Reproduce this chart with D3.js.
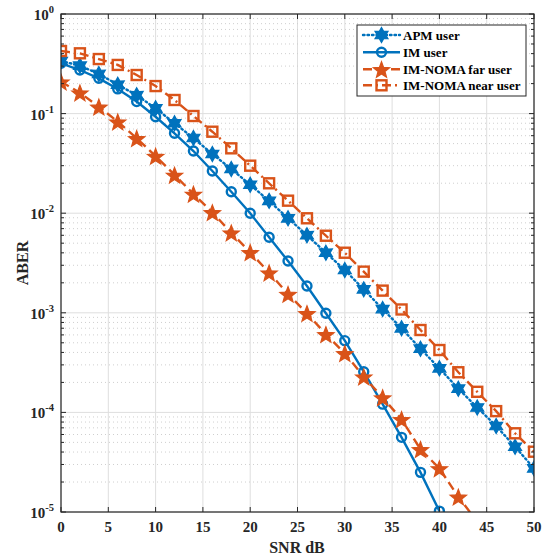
<!DOCTYPE html>
<html><head><meta charset="utf-8">
<script src="https://cdn.jsdelivr.net/npm/d3@7"></script>
<style>body{margin:0;background:#fff}svg{display:block}text{font-family:"Liberation Serif","Times New Roman",serif;font-weight:bold}</style>
</head><body><svg id="c" width="546" height="558"></svg>
<script>
const snr = d3.range(0, 51, 2);
const apm = [0.337,0.303,0.250,0.195,0.153,0.113,0.080,0.0569,0.0393,0.0278,0.0193,0.0133,0.00889,0.00601,0.00401,0.00269,0.00172,0.00109,0.000699,0.000436,0.000277,0.000173,0.000112,7.3e-5,4.52e-5,2.74e-5];
const imUser = [0.320,0.274,0.226,0.177,0.132,0.093,0.0634,0.0421,0.0265,0.0164,0.00998,0.00573,0.00331,0.00186,0.000989,0.000525,0.000256,0.000121,5.62e-5,2.5e-5,1.02e-5];
const farUser = [0.209,0.162,0.117,0.083,0.0565,0.0375,0.0242,0.0156,0.0102,0.00637,0.00405,0.00253,0.00154,0.000988,0.000608,0.000392,0.000228,0.000141,8.53e-5,4.26e-5,2.74e-5,1.42e-5,8.0e-6];
const nearUser = [0.425,0.403,0.353,0.308,0.244,0.189,0.137,0.0946,0.0658,0.0448,0.030,0.01996,0.01336,0.00889,0.00594,0.00401,0.00259,0.00167,0.00108,0.000672,0.000423,0.000253,0.000161,0.000103,6.17e-5,4.03e-5];
const xTicks = [0,5,10,15,20,25,30,35,40,45,50];
const yExps = [0,-1,-2,-3,-4,-5];
const legendLabels = ["APM user","IM user","IM-NOMA far user","IM-NOMA near user"];

const blue = "#0072BD", orange = "#D95319";
const svg = d3.select("#c");
const L = 61, R = 534, T = 14, B = 512;
const x = d3.scaleLinear().domain([0,50]).range([L,R]);
const y = d3.scaleLog().domain([1e-5,1]).range([B,T]);

// grid
const g = svg.append("g");
xTicks.forEach(v => g.append("line").attr("x1",x(v)).attr("x2",x(v)).attr("y1",T).attr("y2",B).attr("stroke","#dedede").attr("stroke-width",1));
const minors = [];
for (let e=-5;e<0;e++) for (let m=2;m<=9;m++) minors.push(m*Math.pow(10,e));
minors.forEach(v => g.append("line").attr("x1",L).attr("x2",R).attr("y1",y(v)).attr("y2",y(v)).attr("stroke","#cfcfcf").attr("stroke-width",1).attr("stroke-dasharray","1,3"));
yExps.forEach(e => g.append("line").attr("x1",L).attr("x2",R).attr("y1",y(Math.pow(10,e))).attr("y2",y(Math.pow(10,e))).attr("stroke","#dedede").attr("stroke-width",1));

// clip
svg.append("defs").append("clipPath").attr("id","clip").append("rect").attr("x",L).attr("y",T).attr("width",R-L).attr("height",B-T);

const series = [
  {vals: apm, color: blue, dash: "1.5,3", sym: "hex", lc:"round"},
  {vals: imUser, color: blue, dash: null, sym: "circle", lc:"butt"},
  {vals: farUser, color: orange, dash: "9,5", sym: "star", lc:"butt"},
  {vals: nearUser, color: orange, dash: "9,4,2,4", sym: "square", lc:"butt"}
];
function star(n, ro, ri){ const p=[]; for(let i=0;i<2*n;i++){const r=i%2?ri:ro; const a=-Math.PI/2+i*Math.PI/n; p.push([r*Math.cos(a), r*Math.sin(a)]);} return "M"+p.map(q=>q.join(",")).join("L")+"Z"; }
function drawMarker(sel, sym, color, cx, cy){
  if (sym==="hex") sel.append("path").attr("d",star(6,7.5,4.3)).attr("transform",`translate(${cx},${cy})`).attr("fill",color).attr("stroke",color).attr("stroke-width",1.2);
  else if (sym==="circle") sel.append("circle").attr("cx",cx).attr("cy",cy).attr("r",4.5).attr("fill","none").attr("stroke",color).attr("stroke-width",2.4);
  else if (sym==="star") sel.append("path").attr("d",star(5,8.5,3.6)).attr("transform",`translate(${cx},${cy+1})`).attr("fill",color).attr("stroke",color).attr("stroke-width",1.2);
  else if (sym==="square") sel.append("rect").attr("x",cx-5).attr("y",cy-5).attr("width",10).attr("height",10).attr("fill","none").attr("stroke",color).attr("stroke-width",2.4);
}
const plot = svg.append("g").attr("clip-path","url(#clip)");
const line = d3.line().x((d,i)=>x(snr[i])).y(d=>y(d));
series.forEach(s => {
  plot.append("path").attr("d",line(s.vals)).attr("fill","none").attr("stroke",s.color).attr("stroke-width",2.4).attr("stroke-dasharray",s.dash).attr("stroke-linecap",s.lc);
});
series.forEach(s => {
  s.vals.forEach((v,i)=>{ if (v>=1e-5*0.98) drawMarker(plot, s.sym, s.color, x(snr[i]), y(v)); });
});

// axes box
svg.append("rect").attr("x",L).attr("y",T).attr("width",R-L).attr("height",B-T).attr("fill","none").attr("stroke","#262626").attr("stroke-width",1.2);
const tk = svg.append("g").attr("stroke","#262626").attr("stroke-width",1);
xTicks.forEach(v => { tk.append("line").attr("x1",x(v)).attr("x2",x(v)).attr("y1",B).attr("y2",B-5); tk.append("line").attr("x1",x(v)).attr("x2",x(v)).attr("y1",T).attr("y2",T+5); });
yExps.forEach(e => { const yy=y(Math.pow(10,e)); tk.append("line").attr("x1",L).attr("x2",L+5).attr("y1",yy).attr("y2",yy); tk.append("line").attr("x1",R).attr("x2",R-5).attr("y1",yy).attr("y2",yy); });
minors.forEach(v => { const yy=y(v); tk.append("line").attr("x1",L).attr("x2",L+3).attr("y1",yy).attr("y2",yy); tk.append("line").attr("x1",R).attr("x2",R-3).attr("y1",yy).attr("y2",yy); });

// tick labels
xTicks.forEach(v => svg.append("text").attr("x",x(v)).attr("y",532).attr("text-anchor","middle").attr("font-size",15).attr("fill","#262626").text(v));
yExps.forEach(e => {
  const t = svg.append("text").attr("x",54).attr("y",y(Math.pow(10,e))+6).attr("text-anchor","end").attr("font-size",15).attr("fill","#262626");
  t.append("tspan").text("10");
  t.append("tspan").attr("dy",-7).attr("font-size",10.5).text(e);
});
svg.append("text").attr("x",297).attr("y",553).attr("text-anchor","middle").attr("font-size",16).attr("fill","#262626").text("SNR dB");
svg.append("text").attr("transform","translate(28,263) rotate(-90)").attr("text-anchor","middle").attr("font-size",16).attr("fill","#262626").text("ABER");

// legend
const lg = svg.append("g");
lg.append("rect").attr("x",357).attr("y",25).attr("width",169).attr("height",71).attr("fill","#fff").attr("stroke","#262626").attr("stroke-width",1);
const ly = [35,52.3,69.3,85.3];
series.forEach((s,i) => {
  lg.append("line").attr("x1",363).attr("x2",400).attr("y1",ly[i]).attr("y2",ly[i]).attr("stroke",s.color).attr("stroke-width",2.4).attr("stroke-dasharray",s.dash).attr("stroke-linecap",s.lc);
  drawMarker(lg, s.sym, s.color, 381.5, ly[i]);
  lg.append("text").attr("x",403).attr("y",ly[i]+4.5).attr("font-size",13).attr("fill","#000").text(legendLabels[i]);
});
</script></body></html>
